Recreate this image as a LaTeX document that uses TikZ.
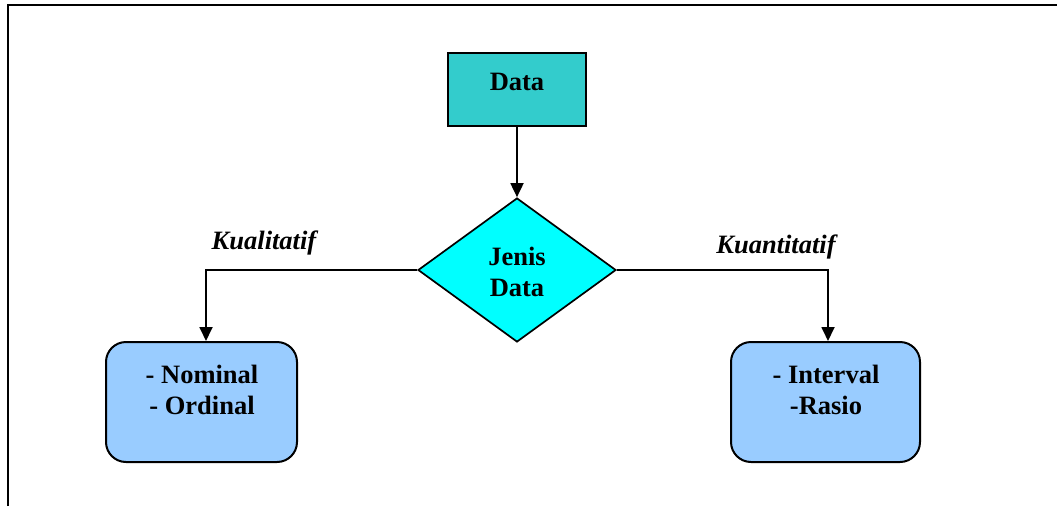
\documentclass[tikz,border=0pt]{standalone}
\usepackage{fontspec}
\setmainfont{Liberation Serif}
\usetikzlibrary{shapes.geometric,arrows.meta}
\definecolor{dataC}{HTML}{33CCCC}
\definecolor{jenisC}{HTML}{00FFFF}
\definecolor{boxC}{HTML}{99CCFF}
\begin{document}
\begin{tikzpicture}[x=1pt,y=-1pt,
  txt/.style={font=\fontsize{26.5}{31}\selectfont\bfseries, align=center},
  rectbox/.style={draw, line width=2pt, fill=dataC, minimum width=138pt, minimum height=73pt, inner sep=0pt},
  decision/.style={draw, line width=1.7pt, fill=jenisC, diamond, aspect=1.375, minimum width=198pt, minimum height=144pt, inner sep=0pt},
  roundbox/.style={draw, line width=2pt, fill=boxC, rounded corners=20pt, inner sep=0pt},
  conn/.style={line width=1.8pt, -{Triangle[width=13pt,length=14pt]}},
  lbl/.style={font=\fontsize{26.5}{31}\selectfont\bfseries\itshape}
]
\useasboundingbox (0,0) rectangle (1057,506);
\draw[line width=2pt] (7.5,506) -- (7.5,4.5) -- (1057,4.5);
\node[rectbox] (data) at (517,89.5) {};
\node[txt] (datat) at (517,82) {Data};
\node[decision] (jenis) at (517,270) {};
\node[txt] (jenist) at (517,272) {Jenis\\Data};
\node[roundbox, minimum width=191pt, minimum height=120pt] (kual) at (201.5,402) {};
\node[txt] (kualt) at (202,390) {- Nominal\\- Ordinal};
\node[roundbox, minimum width=189pt, minimum height=120pt] (kuan) at (825.5,402) {};
\node[txt] (kuant) at (826,390) {- Interval\\-Rasio};
\coordinate (lc) at (206,270);
\coordinate (rc) at (828,270);
\draw[conn] (data.south) -- (jenis.north);
\draw[conn] (jenis.west) -- (lc) -- (lc |- kual.north);
\draw[conn] (jenis.east) -- (rc) -- (rc |- kuan.north);
\node[lbl] (kualL) at (264,243) {Kualitatif};
\node[lbl] (kuanL) at (776,247) {Kuantitatif};
\end{tikzpicture}
\end{document}
